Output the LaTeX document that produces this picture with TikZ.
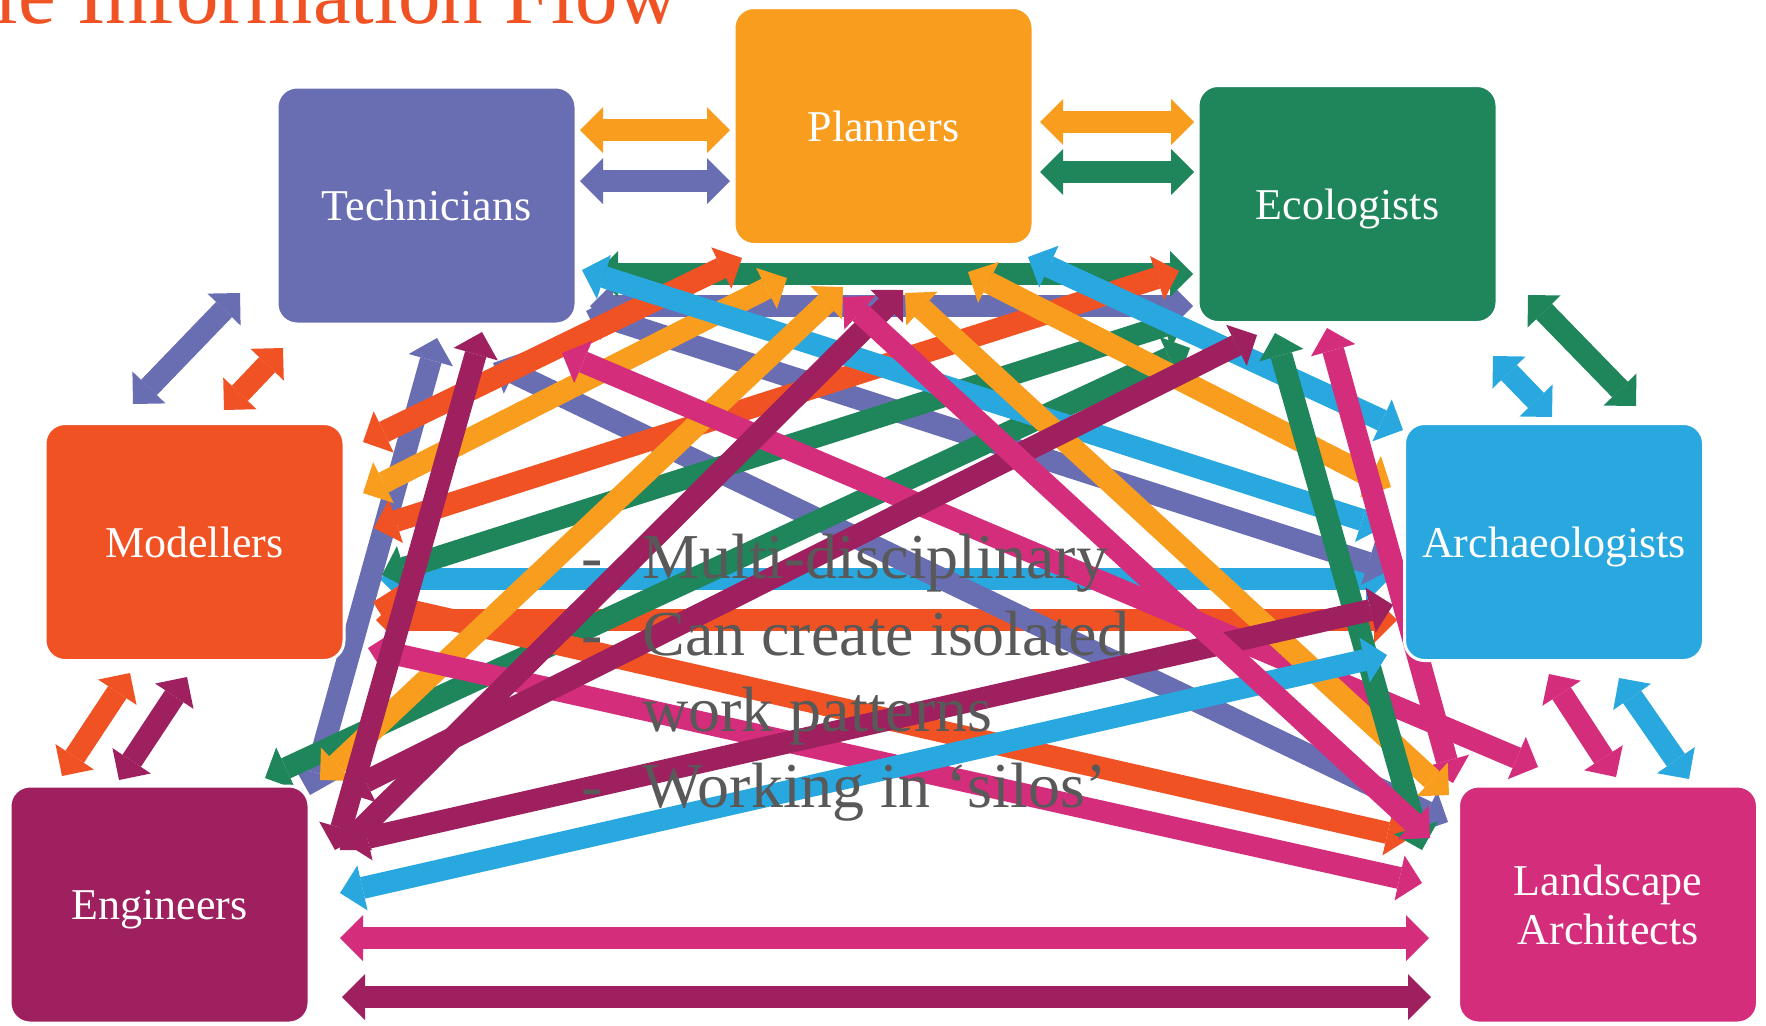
\documentclass[tikz,border=0pt]{standalone}
\usepackage{fontspec}
\setmainfont{Liberation Serif}
\usetikzlibrary{arrows.meta}
\definecolor{ctech}{RGB}{105,110,179}
\definecolor{cplan}{RGB}{249,157,31}
\definecolor{ceco}{RGB}{31,133,91}
\definecolor{cmod}{RGB}{240,82,36}
\definecolor{carch}{RGB}{41,168,224}
\definecolor{ceng}{RGB}{158,32,94}
\definecolor{cland}{RGB}{211,45,124}
\definecolor{ctext}{RGB}{89,89,89}
\newcommand{\flowarr}[4]{%
  \coordinate (#1s) at #2; \coordinate (#1e) at #3;
  \draw[biarr,color=#4] (#1s) -- (#1e);}
\begin{document}
\begin{tikzpicture}[x=0.5pt,y=-0.5pt,
  biarr/.style={line width=11pt,
    {Triangle[width=23pt,length=11.5pt,line width=0pt]}-{Triangle[width=23pt,length=11.5pt,line width=0pt]}},
  box/.style={draw=white, line width=1.5pt, rounded corners=10pt,
    minimum width=149.5pt, minimum height=118.5pt, inner sep=0pt,
    text=white, font=\fontsize{22}{24.5}\selectfont, align=center},
  onebox/.style={box, text depth=0pt},
  bul/.style={anchor=base west, inner sep=0pt, text=ctext,
    font=\fontsize{32}{36}\selectfont}]
\fill[white] (0,0) rectangle (1766,1025);
\useasboundingbox (0,0) rectangle (1766,1025);

% title
\node[anchor=base west, inner sep=0pt, text=cmod,
  font=\fontsize{42.5}{46}\selectfont] (title) at (-6,23) {le Information Flow};

% long connectors (bottom layers first)
\flowarr{TEp}{(590,306)}{(1193,306)}{ctech}
\flowarr{TEg}{(595,274)}{(1193,274)}{ceco}
\flowarr{MAr}{(376,620)}{(1397,620)}{cmod}
\flowarr{MAb}{(380,579)}{(1389,579)}{carch}
\flowarr{TGp}{(437,338)}{(310,795)}{ctech}
\flowarr{TAp}{(586,311)}{(1390,570)}{ctech}
\flowarr{TLp}{(493,363)}{(1448,822)}{ctech}
\flowarr{MEg}{(382,575)}{(1186,319)}{ceco}
\flowarr{EGg}{(265,778)}{(1190,348)}{ceco}
\flowarr{MEr}{(374,528)}{(1179,271)}{cmod}
\flowarr{MLr}{(373,602)}{(1410,838)}{cmod}
\flowarr{PMr}{(742,258)}{(363,442)}{cmod}
\flowarr{PMo}{(787,278)}{(363,493)}{cplan}
\flowarr{PAo}{(968,272)}{(1391,487)}{cplan}
\flowarr{PAb}{(1028,257)}{(1403,430)}{carch}
\flowarr{TAb}{(582,270)}{(1384,527)}{carch}
\flowarr{PGo}{(843,287)}{(320,780)}{cplan}
\flowarr{MLk}{(368,648)}{(1422,883)}{cland}
\flowarr{TLk}{(562,353)}{(1538,767)}{cland}
\flowarr{ELk}{(1327,328)}{(1453,783)}{cland}
\flowarr{PLo}{(905,293)}{(1449,795)}{cplan}
\flowarr{ELg}{(1275,333)}{(1422,850)}{ceco}
\flowarr{GAb}{(340,893)}{(1387,655)}{carch}
\flowarr{GAm}{(345,843)}{(1393,605)}{ceng}
\flowarr{EGm}{(1257,335)}{(345,792)}{ceng}
\flowarr{TGm}{(482,332)}{(335,850)}{ceng}
\flowarr{PGm}{(903,290)}{(340,850)}{ceng}
\flowarr{PLk}{(843,297)}{(1430,838)}{cland}

% short connectors
\flowarr{TPo}{(580,130)}{(730,130)}{cplan}
\flowarr{TPp}{(580,181)}{(730,181)}{ctech}
\flowarr{PEo}{(1040,122)}{(1194,122)}{cplan}
\flowarr{PEg}{(1040,172)}{(1194,172)}{ceco}
\flowarr{TMp}{(240,293)}{(133,404)}{ctech}
\flowarr{TMr}{(283,348)}{(224,410)}{cmod}
\flowarr{EAg}{(1528,295)}{(1636,406)}{ceco}
\flowarr{EAb}{(1493,356)}{(1552,417)}{carch}
\flowarr{MGr}{(130,673)}{(62,776)}{cmod}
\flowarr{MGm}{(187,677)}{(119,780)}{ceng}
\flowarr{ALk}{(1549,674)}{(1616,777)}{cland}
\flowarr{ALb}{(1619,678)}{(1689,779)}{carch}
\flowarr{GLk}{(340,938)}{(1429,938)}{cland}
\flowarr{GLm}{(342,997)}{(1431,997)}{ceng}

% boxes
\node[onebox, fill=ctech] (tech) at (426.5,205.5) {Technicians};
\node[onebox, fill=cplan] (plan) at (883.5,126) {Planners};
\node[onebox, fill=ceco] (eco) at (1347.5,204) {Ecologists};
\node[onebox, fill=cmod] (mod) at (194.5,542) {Modellers};
\node[onebox, fill=carch] (arch) at (1554,542) {Archaeologists};
\node[onebox, fill=ceng] (eng) at (159.5,904.5) {Engineers};
\node[box, fill=cland] (land) at (1608,904.5) {Landscape\\Architects};

% bullet text
\node[bul] (d1) at (581,578) {-};
\node[bul] (l1) at (642,578) {Multi-disciplinary};
\node[bul] (d2) at (581,655) {-};
\node[bul] (l2) at (642,655) {Can create isolated};
\node[bul] (l3) at (642,731) {work patterns};
\node[bul] (d4) at (581,807) {-};
\node[bul] (l4) at (642,807) {Working in ‘silos’};
\end{tikzpicture}
\end{document}
